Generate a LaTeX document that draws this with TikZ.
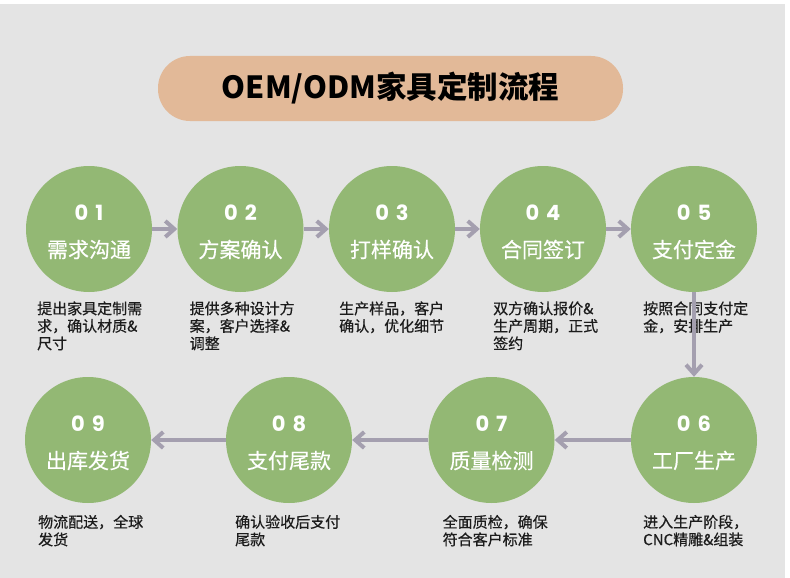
\documentclass[tikz,border=0pt]{standalone}
\usepackage{fontspec}
\setmainfont{Noto Sans CJK SC}
\newfontfamily\numfont{Poppins}
\newfontfamily\descfont{Noto Sans CJK SC}[FakeBold=0.5]
\newfontfamily\labelfont{Noto Sans CJK SC}[FakeBold=0.4]
\usetikzlibrary{arrows.meta,positioning}
\definecolor{bggray}{HTML}{E4E4E4}
\definecolor{pilltan}{HTML}{E2B998}
\definecolor{stepgreen}{HTML}{93B874}
\definecolor{flowgray}{HTML}{A49FAF}
\definecolor{desctext}{HTML}{1C1C1C}

\begin{document}
\begin{tikzpicture}[
    x=1pt, y=-1pt,
    pill/.style={rectangle, rounded corners=32pt, fill=pilltan, minimum width=465pt, minimum height=65pt, font=\bfseries\fontsize{30.5}{36}\selectfont},
    stepcircle/.style={circle, fill=stepgreen, minimum size=126pt, inner sep=0pt},
    stepnum/.style={text=white, inner sep=0pt, font=\numfont\bfseries\fontsize{21}{24}\selectfont},
    steplabel/.style={text=white, inner sep=0pt, font=\labelfont\fontsize{21}{24}\selectfont},
    stepdesc/.style={anchor=north west, align=left, inner sep=0pt, text=desctext, font=\descfont\fontsize{15}{17.5}\selectfont},
    flow/.style={-{Straight Barb[length=9pt,width=16pt]}, line width=4pt, draw=flowgray}
]
    \useasboundingbox (0,0) rectangle (790,578);
    \fill[white] (0,0) rectangle (790,578);
    \fill[bggray] (0,4) rectangle (785,578);

    \node[pill] (title) at (390.5,88.5) {OEM/ODM家具定制流程};

    % top row
    \node[stepcircle] (s1) at (89,229) {};
    \node[stepcircle] (s2) at (240.5,229) {};
    \node[stepcircle] (s3) at (392,229) {};
    \node[stepcircle] (s4) at (543,229) {};
    \node[stepcircle] (s5) at (694,229) {};

    % bottom row
    \node[stepcircle] (s6) at (694,440) {};
    \node[stepcircle] (s7) at (491.5,440) {};
    \node[stepcircle] (s8) at (289,440) {};
    \node[stepcircle] (s9) at (88,440) {};

    \node[stepnum] (n1) at ([yshift=16.5pt]s1.center) {0\hspace{7pt}1};
    \node[stepnum] (n2) at ([yshift=16.5pt]s2.center) {0\hspace{7pt}2};
    \node[stepnum] (n3) at ([yshift=16.5pt]s3.center) {0\hspace{7pt}3};
    \node[stepnum] (n4) at ([yshift=16.5pt]s4.center) {0\hspace{7pt}4};
    \node[stepnum] (n5) at ([yshift=16.5pt]s5.center) {0\hspace{7pt}5};
    \node[stepnum] (n6) at ([yshift=16.5pt]s6.center) {0\hspace{7pt}6};
    \node[stepnum] (n7) at ([yshift=16.5pt]s7.center) {0\hspace{7pt}7};
    \node[stepnum] (n8) at ([yshift=16.5pt]s8.center) {0\hspace{7pt}8};
    \node[stepnum] (n9) at ([yshift=16.5pt]s9.center) {0\hspace{7pt}9};

    \node[steplabel] (l1) at ([yshift=-20.5pt]s1.center) {需求沟通};
    \node[steplabel] (l2) at ([yshift=-20.5pt]s2.center) {方案确认};
    \node[steplabel] (l3) at ([yshift=-20.5pt]s3.center) {打样确认};
    \node[steplabel] (l4) at ([yshift=-20.5pt]s4.center) {合同签订};
    \node[steplabel] (l5) at ([yshift=-20.5pt]s5.center) {支付定金};
    \node[steplabel] (l6) at ([yshift=-20.5pt]s6.center) {工厂生产};
    \node[steplabel] (l7) at ([yshift=-20.5pt]s7.center) {质量检测};
    \node[steplabel] (l8) at ([yshift=-20.5pt]s8.center) {支付尾款};
    \node[steplabel] (l9) at ([yshift=-20.5pt]s9.center) {出库发货};

    \node[stepdesc] (d1) at ([shift={(-52,9)}]s1.south) {提出家具定制需\\求，确认材质\&\\尺寸};
    \node[stepdesc] (d2) at ([shift={(-51,9)}]s2.south) {提供多种设计方\\案，客户选择\&\\调整};
    \node[stepdesc] (d3) at ([shift={(-53,9)}]s3.south) {生产样品，客户\\确认，优化细节};
    \node[stepdesc] (d4) at ([shift={(-50,9)}]s4.south) {双方确认报价\&\\生产周期，正式\\签约};
    \node[stepdesc] (d5) at ([shift={(-51,9)}]s5.south) {按照合同支付定\\金，安排生产};
    \node[stepdesc] (d6) at ([shift={(-51,11.5)}]s6.south) {进入生产阶段，\\CNC精雕\&组装};
    \node[stepdesc] (d7) at ([shift={(-49,11.5)}]s7.south) {全面质检，确保\\符合客户标准};
    \node[stepdesc] (d8) at ([shift={(-54,11.5)}]s8.south) {确认验收后支付\\尾款};
    \node[stepdesc] (d9) at ([shift={(-50,11.5)}]s9.south) {物流配送，全球\\发货};

    \draw[flow] (s1) -- (s2);
    \draw[flow] (s2) -- (s3);
    \draw[flow] (s3) -- (s4);
    \draw[flow] (s4) -- (s5);
    \draw[flow] (s5) -- (s6);
    \draw[flow] (s6) -- (s7);
    \draw[flow] (s7) -- (s8);
    \draw[flow] (s8) -- (s9);
\end{tikzpicture}
\end{document}
